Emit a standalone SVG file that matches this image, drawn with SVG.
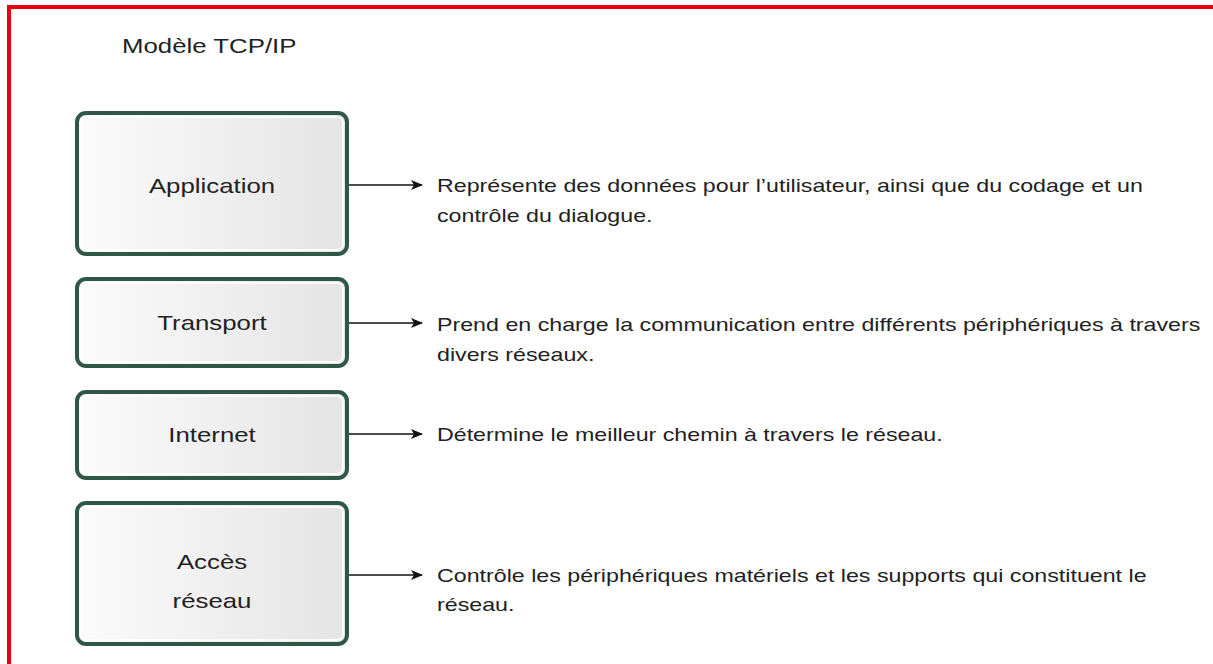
<svg xmlns="http://www.w3.org/2000/svg" width="1213" height="664" viewBox="0 0 1213 664">
<defs>
<linearGradient id="g" x1="0" y1="0" x2="1" y2="0">
<stop offset="0" stop-color="#fbfbfb"/>
<stop offset="1" stop-color="#e4e4e4"/>
</linearGradient>
<marker id="ah" viewBox="0 0 12 10" refX="11" refY="5" markerWidth="12" markerHeight="10" markerUnits="userSpaceOnUse" orient="auto">
<path d="M0,0 L12,5 L0,10 L3,5 Z" fill="#111"/>
</marker>
<style>
.box{fill:url(#g);stroke:#2e5748;stroke-width:4}
.inner{fill:none;stroke:#ffffff;stroke-width:2;opacity:0.8}
.lbl{font-family:"Liberation Sans",Arial,sans-serif;font-size:20px;fill:#222;text-anchor:middle}
.desc{font-family:"Liberation Sans",Arial,sans-serif;font-size:18px;fill:#222}
.conn{stroke:#111;stroke-width:1.5;fill:none;marker-end:url(#ah)}
</style>
</defs>
<rect x="0" y="0" width="1213" height="664" fill="#ffffff"/>
<path d="M9,664 L9,7 L1213,7" fill="none" stroke="#e60012" stroke-width="4"/>
<text transform="translate(122,53) scale(1.29,1)" x="0" y="0" style="font-family:'Liberation Sans',Arial,sans-serif;font-size:20px;fill:#222">Modèle TCP/IP</text>
<g id="application">
<rect class="box" x="77" y="113" width="270" height="141" rx="9"/>
<rect class="inner" x="81" y="117" width="262" height="133" rx="6"/>
<text class="lbl" transform="translate(212,193) scale(1.29,1)" x="0" y="0">Application</text>
</g>
<g id="transport">
<rect class="box" x="77" y="279" width="270" height="87" rx="9"/>
<rect class="inner" x="81" y="283" width="262" height="79" rx="6"/>
<text class="lbl" transform="translate(212,330) scale(1.29,1)" x="0" y="0">Transport</text>
</g>
<g id="internet">
<rect class="box" x="77" y="392" width="270" height="86" rx="9"/>
<rect class="inner" x="81" y="396" width="262" height="78" rx="6"/>
<text class="lbl" transform="translate(212,442) scale(1.29,1)" x="0" y="0">Internet</text>
</g>
<g id="acces">
<rect class="box" x="77" y="503" width="270" height="141" rx="9"/>
<rect class="inner" x="81" y="507" width="262" height="133" rx="6"/>
<text class="lbl" transform="translate(212,569) scale(1.29,1)" x="0" y="0">Accès</text>
<text class="lbl" transform="translate(212,608) scale(1.29,1)" x="0" y="0">réseau</text>
</g>
<g id="connectors">
<line class="conn" x1="349" y1="185" x2="422" y2="185"/>
<line class="conn" x1="349" y1="323" x2="422" y2="323"/>
<line class="conn" x1="349" y1="434" x2="422" y2="434"/>
<line class="conn" x1="349" y1="575" x2="422" y2="575"/>
</g>
<g id="descriptions">
<text class="desc" transform="translate(437,192) scale(1.29,1)" x="0" y="0">Représente des données pour l’utilisateur, ainsi que du codage et un</text>
<text class="desc" transform="translate(437,222) scale(1.29,1)" x="0" y="0">contrôle du dialogue.</text>
<text class="desc" transform="translate(437,331) scale(1.29,1)" x="0" y="0">Prend en charge la communication entre différents périphériques à travers</text>
<text class="desc" transform="translate(437,361) scale(1.29,1)" x="0" y="0">divers réseaux.</text>
<text class="desc" transform="translate(437,441) scale(1.29,1)" x="0" y="0">Détermine le meilleur chemin à travers le réseau.</text>
<text class="desc" transform="translate(437,582) scale(1.29,1)" x="0" y="0">Contrôle les périphériques matériels et les supports qui constituent le</text>
<text class="desc" transform="translate(437,611) scale(1.29,1)" x="0" y="0">réseau.</text>
</g>
</svg>
